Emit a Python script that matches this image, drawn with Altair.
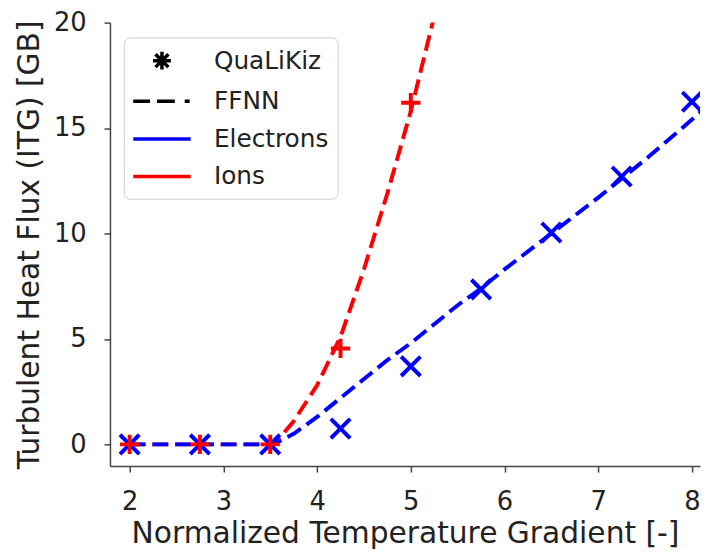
import altair as alt
import pandas as pd

# ---- data ----
x_qlk = [2.0, 2.75, 3.5, 4.25, 5.0, 5.75, 6.5, 7.25, 8.0]
electrons_qlk = [0.0, 0.0, 0.0, 0.75, 3.7, 7.35, 10.05, 12.7, 16.25]
x_qlk_ions = [2.0, 2.75, 3.5, 4.25, 5.0]
ions_qlk = [0.0, 0.0, 0.0, 4.55, 16.2]

x_ffnn_e = [2.0, 2.5, 3.0, 3.5, 3.6, 3.75, 4.0, 4.25, 4.5, 4.75, 5.0, 5.25, 5.5,
            5.75, 6.0, 6.5, 7.0, 7.5, 8.0, 8.25]
electrons_ffnn = [0.0, 0.0, 0.0, 0.0, 0.15, 0.5, 1.3, 2.2, 3.1, 4.0, 4.8, 5.7, 6.6,
                  7.4, 8.3, 10.0, 11.7, 13.5, 15.4, 16.4]
x_ffnn_i = [2.0, 2.5, 3.0, 3.5, 3.6, 3.75, 4.0, 4.25, 4.5, 4.75, 5.0, 5.25, 5.5]
ions_ffnn = [0.0, 0.0, 0.0, 0.0, 0.3, 1.1, 2.8, 5.1, 8.3, 11.9, 15.8, 20.3, 24.8]

legend_labels = ["QuaLiKiz", "FFNN", "Electrons", "Ions"]
legend_colors = ["#000000", "#000000", "#0000ff", "#ff0000"]
x_ticks = [2, 3, 4, 5, 6, 7, 8]
y_ticks = [0, 5, 10, 15, 20]

BLUE = "#0000ff"
RED = "#ff0000"
FONT = "DejaVu Sans"

xs = alt.Scale(domain=[1.79, 8.086], nice=False, zero=False)
ys = alt.Scale(domain=[-1.03, 20], nice=False, zero=False)

x_axis = alt.Axis(values=x_ticks, title="Normalized Temperature Gradient [-]",
                  labelPadding=17, titlePadding=4, grid=False)
y_axis = alt.Axis(values=y_ticks, title="Turbulent Heat Flux (ITG) [GB]",
                  labelPadding=18, titlePadding=9, grid=False)

df_e_line = pd.DataFrame({"x": x_ffnn_e, "y": electrons_ffnn})
df_i_line = pd.DataFrame({"x": x_ffnn_i, "y": ions_ffnn})
df_e_pts = pd.DataFrame({"x": x_qlk, "y": electrons_qlk})
df_i_pts = pd.DataFrame({"x": x_qlk_ions, "y": ions_qlk})

def enc(ch):
    return ch.encode(
        x=alt.X("x:Q", scale=xs, axis=x_axis),
        y=alt.Y("y:Q", scale=ys, axis=y_axis),
    )

red_line = enc(alt.Chart(df_i_line).mark_line(
    color=RED, strokeWidth=4, strokeDash=[16, 7], clip=True, strokeCap="butt"))
blue_line = enc(alt.Chart(df_e_line).mark_line(
    color=BLUE, strokeWidth=4, strokeDash=[16, 7], clip=True, strokeCap="butt"))

X_PATH = "M-1,-1L1,1M-1,1L1,-1"
PLUS_PATH = "M-1,0L1,0M0,-1L0,1"

blue_pts = enc(alt.Chart(df_e_pts).mark_point(
    shape=X_PATH, filled=False, color=BLUE, strokeWidth=4, size=380, opacity=1, clip=True))
red_pts = enc(alt.Chart(df_i_pts).mark_point(
    shape=PLUS_PATH, filled=False, color=RED, strokeWidth=4, size=380, opacity=1, clip=True))

# legend built from a dummy layer (no drawn points)
ASTER = ("M-0.72,0L0.72,0M0,-0.72L0,0.72"
         "M-0.52,-0.52L0.52,0.52M-0.52,0.52L0.52,-0.52")
DASHED = "M-2.32,0L-0.96,0M-0.4,0L1.04,0M1.84,0L2.24,0"
SOLID = "M-2.32,0L2.32,0"
legend_shapes = [ASTER, DASHED, SOLID, SOLID]

leg = alt.Legend(
    title=None, orient="none", legendX=14, legendY=15,
    labelFont=FONT, labelFontSize=25, labelColor="#222222",
    symbolSize=625, symbolStrokeWidth=3.5, padding=9, rowPadding=10,
    symbolOffset=15, labelOffset=38, fillColor="white", strokeColor="#cccccc",
    cornerRadius=6, symbolOpacity=1,
)
df_leg = pd.DataFrame({"series": legend_labels, "x": [None] * 4, "y": [None] * 4})
legend_layer = alt.Chart(df_leg).mark_point(filled=False, opacity=1, strokeWidth=3.5).encode(
    x=alt.X("x:Q", scale=xs, axis=x_axis),
    y=alt.Y("y:Q", scale=ys, axis=y_axis),
    color=alt.Color("series:N", scale=alt.Scale(domain=legend_labels, range=legend_colors),
                    sort=legend_labels, legend=leg),
    shape=alt.Shape("series:N", scale=alt.Scale(domain=legend_labels, range=legend_shapes),
                    sort=legend_labels, legend=leg),
)

chart = alt.layer(red_line, blue_line, blue_pts, red_pts, legend_layer).properties(
    width=596, height=448,
    autosize=alt.AutoSizeParams(type="none"),
    padding={"left": 103, "top": 12, "right": 2, "bottom": 83},
).configure_view(stroke=None).configure_axis(
    labelFont=FONT, titleFont=FONT, labelFontSize=26, titleFontSize=30,
    labelColor="#222222", titleColor="#222222", titleFontWeight="normal",
    domainColor="#444444", domainWidth=1.5, tickColor="#444444", tickWidth=1.5,
    tickSize=6,
)

chart.save("out.html", embed_options={"renderer": "svg", "actions": False})
